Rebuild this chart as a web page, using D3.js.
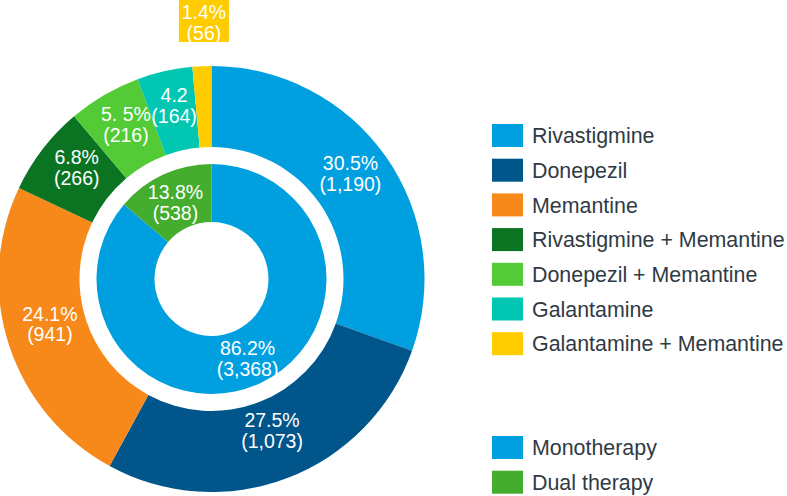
<!DOCTYPE html>
<html>
<head>
<meta charset="utf-8">
<script src="https://cdn.jsdelivr.net/npm/d3@7"></script>
<style>
  html, body { margin: 0; padding: 0; background: #fff; }
  svg { display: block; }
  text { font-family: "Helvetica Neue", Helvetica, "Liberation Sans", Arial, sans-serif; }
</style>
</head>
<body>
<svg id="chart" width="787" height="496"></svg>
<script>
// ---- data ----
const drugs = ["Rivastigmine", "Donepezil", "Memantine", "Rivastigmine + Memantine",
               "Donepezil + Memantine", "Galantamine", "Galantamine + Memantine"];
const drugCounts = [1190, 1073, 941, 266, 216, 164, 56];
const drugPctLabels = ["30.5%", "27.5%", "24.1%", "6.8%", "5. 5%", "4.2", "1.4%"];
const drugColors = ["#009fdf", "#00558b", "#f7891b", "#0b7423", "#52cb36", "#00c6b2", "#ffcc00"];

const therapies = ["Monotherapy", "Dual therapy"];
const therapyCounts = [3368, 538];
const therapyPctLabels = ["86.2%", "13.8%"];
const therapyColors = ["#009fdf", "#45ad2d"];

// ---- layout ----
const svg = d3.select("#chart");
const cx = 211.5, cy = 279;
const outerR = [132, 213];
const innerR = [57, 115];
const fmt = d3.format(",");

const pie = d3.pie().sort(null).value(d => d);
const g = svg.append("g").attr("transform", `translate(${cx},${cy})`);

const arcOuter = d3.arc().innerRadius(outerR[0]).outerRadius(outerR[1]);
const arcInner = d3.arc().innerRadius(innerR[0]).outerRadius(innerR[1]);
const labelOuter = d3.arc().innerRadius(170).outerRadius(170);
const labelInner = d3.arc().innerRadius(86).outerRadius(86);

const outerData = pie(drugCounts);
const innerData = pie(therapyCounts);

g.selectAll("path.outer").data(outerData).join("path")
  .attr("class", "outer")
  .attr("d", arcOuter)
  .attr("fill", (d, i) => drugColors[i]);

g.selectAll("path.inner").data(innerData).join("path")
  .attr("class", "inner")
  .attr("d", arcInner)
  .attr("fill", (d, i) => therapyColors[i]);

function twoLine(sel, x, y, l1, l2) {
  const t = sel.append("text")
    .attr("x", x).attr("y", y)
    .attr("text-anchor", "middle")
    .attr("fill", "#fff")
    .attr("font-size", 19.5);
  t.append("tspan").attr("x", x).attr("dy", "-0.15em").text(l1);
  t.append("tspan").attr("x", x).attr("dy", "1.06em").text(l2);
}

// outer labels (all but the last small slice)
outerData.forEach((d, i) => {
  if (i === outerData.length - 1) return;
  const [x, y] = labelOuter.centroid(d);
  twoLine(g, x, y - 8, drugPctLabels[i], "(" + fmt(drugCounts[i]) + ")");
});

// small slice label in a box above the ring
{
  const i = outerData.length - 1;
  const d = outerData[i];
  const a = (d.startAngle + d.endAngle) / 2;
  const bx = outerR[1] * Math.sin(a) + 2;
  const boxW = 50, boxH = 42;
  const by = -cy;
  g.append("rect")
    .attr("x", bx - boxW / 2).attr("y", by)
    .attr("width", boxW).attr("height", boxH)
    .attr("fill", drugColors[i]);
  twoLine(g, bx, by + 22, drugPctLabels[i], "(" + fmt(drugCounts[i]) + ")");
}

// inner labels
innerData.forEach((d, i) => {
  const [x, y] = labelInner.centroid(d);
  twoLine(g, x, y + 1, therapyPctLabels[i], "(" + fmt(therapyCounts[i]) + ")");
});

// ---- legends ----
const legX = 492, swW = 31, swH = 23, step = 34.7;
const leg1 = svg.append("g").attr("transform", `translate(${legX},124)`);
drugs.forEach((name, i) => {
  const row = leg1.append("g").attr("transform", `translate(0,${i * step})`);
  row.append("rect").attr("width", swW).attr("height", swH).attr("fill", drugColors[i]);
  row.append("text").attr("x", 40).attr("y", swH / 2).attr("dy", "0.36em")
    .attr("font-size", 21.4).attr("fill", "#2f3a45").text(name);
});

const leg2 = svg.append("g").attr("transform", `translate(${legX},436)`);
therapies.forEach((name, i) => {
  const row = leg2.append("g").attr("transform", `translate(0,${i * step})`);
  row.append("rect").attr("width", swW).attr("height", swH).attr("fill", therapyColors[i]);
  row.append("text").attr("x", 40).attr("y", swH / 2).attr("dy", "0.36em")
    .attr("font-size", 21.4).attr("fill", "#2f3a45").text(name);
});
</script>
</body>
</html>
